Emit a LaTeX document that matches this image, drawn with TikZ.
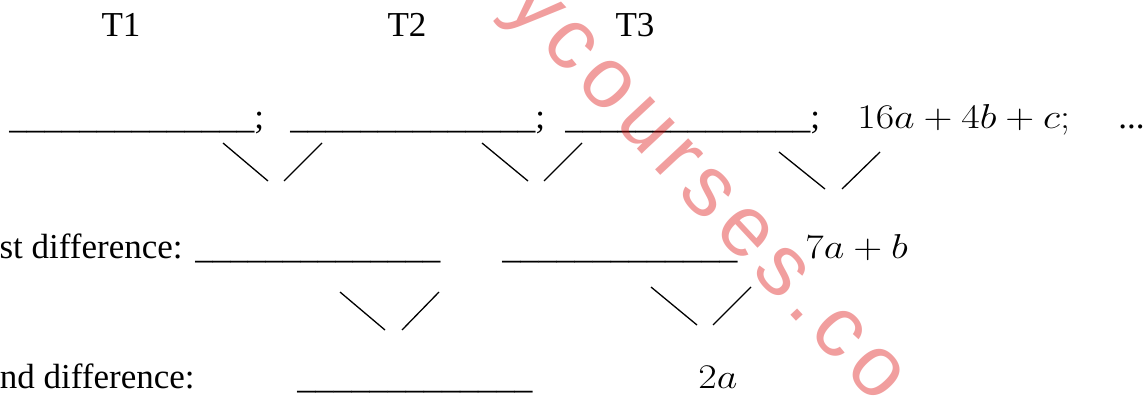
\documentclass[tikz,border=0pt]{standalone}
\usepackage{fontspec}
\usepackage{graphicx}
\setmainfont{Liberation Serif}
\newfontfamily\wmfont[LetterSpace=10]{Liberation Sans}
\newcommand\blanksF{\_\_\_\_\_\_\_\_\_\_\_\_\_\_}
\newcommand\blanksT{\scalebox{1.033}[1]{\_\_\_\_\_\_\_\_\_\_\_\_\_}}
\newcommand\wmath[1]{\scalebox{1.16}[1]{$#1$}}
\begin{document}
\begin{tikzpicture}[x=0.5pt,y=-0.5pt,
  txt/.style={font=\fontsize{17.5}{21}\selectfont, inner sep=0pt, anchor=base west},
  mth/.style={font=\fontsize{19}{23}\selectfont, inner sep=0pt, anchor=base west},
  vline/.style={line width=0.65pt},
  wm/.style={font=\wmfont\fontsize{43}{52}\selectfont, inner sep=0pt, text=red!85!black, text opacity=0.38}]
\useasboundingbox (0,0) rectangle (1145,396);
\clip (0,0) rectangle (1145,396);
% headings
\node[txt,anchor=base] (t1) at (121,36) {T1};
\node[txt,anchor=base] (t2) at (407,36) {T2};
\node[txt,anchor=base] (t3) at (635,36) {T3};
% row 1
\node[txt] (b1) at (9,128) {\blanksF;};
\node[txt] (b2) at (290,128) {\blanksF;};
\node[txt] (b3) at (565,128) {\blanksF;};
\node[mth] (e4) at (857,128) {\wmath{16a+4b+c;}};
\node[txt] (dots) at (1118,128) {...};
% row 2
\node[txt,anchor=base east] (l1) at (183,258) {st difference:};
\node[txt] (u1) at (195,258) {\blanksF};
\node[txt] (u2) at (502,258) {\blanksT};
\node[mth] (d3) at (805,258) {\wmath{7a+b}};
% row 3
\node[txt,anchor=base east] (l2) at (195,388) {nd difference:};
\node[txt] (s1) at (297,388) {\blanksT};
\node[mth] (s2) at (698,388) {\wmath{2a}};
% V connectors row 1 -> row 2
\coordinate (p1a) at (223,143); \coordinate (p1b) at (268,181);
\coordinate (p1c) at (322,143); \coordinate (p1d) at (284,181);
\coordinate (p2a) at (482,143); \coordinate (p2b) at (528,181);
\coordinate (p2c) at (582,143); \coordinate (p2d) at (544,181);
\coordinate (p3a) at (779,152); \coordinate (p3b) at (825,189);
\coordinate (p3c) at (880,152); \coordinate (p3d) at (842,189);
\draw[vline] (p1a) -- (p1b); \draw[vline] (p1c) -- (p1d);
\draw[vline] (p2a) -- (p2b); \draw[vline] (p2c) -- (p2d);
\draw[vline] (p3a) -- (p3b); \draw[vline] (p3c) -- (p3d);
% V connectors row 2 -> row 3
\coordinate (q1a) at (340,292); \coordinate (q1b) at (385,330);
\coordinate (q1c) at (439,292); \coordinate (q1d) at (402,330);
\coordinate (q2a) at (651,287); \coordinate (q2b) at (697,325);
\coordinate (q2c) at (751,287); \coordinate (q2d) at (713,325);
\draw[vline] (q1a) -- (q1b); \draw[vline] (q1c) -- (q1d);
\draw[vline] (q2a) -- (q2b); \draw[vline] (q2c) -- (q2d);
% watermark
\node[wm, rotate=-47, anchor=base west] (wmk) at (504,7) {ycourses.co.};
\end{tikzpicture}
\end{document}
